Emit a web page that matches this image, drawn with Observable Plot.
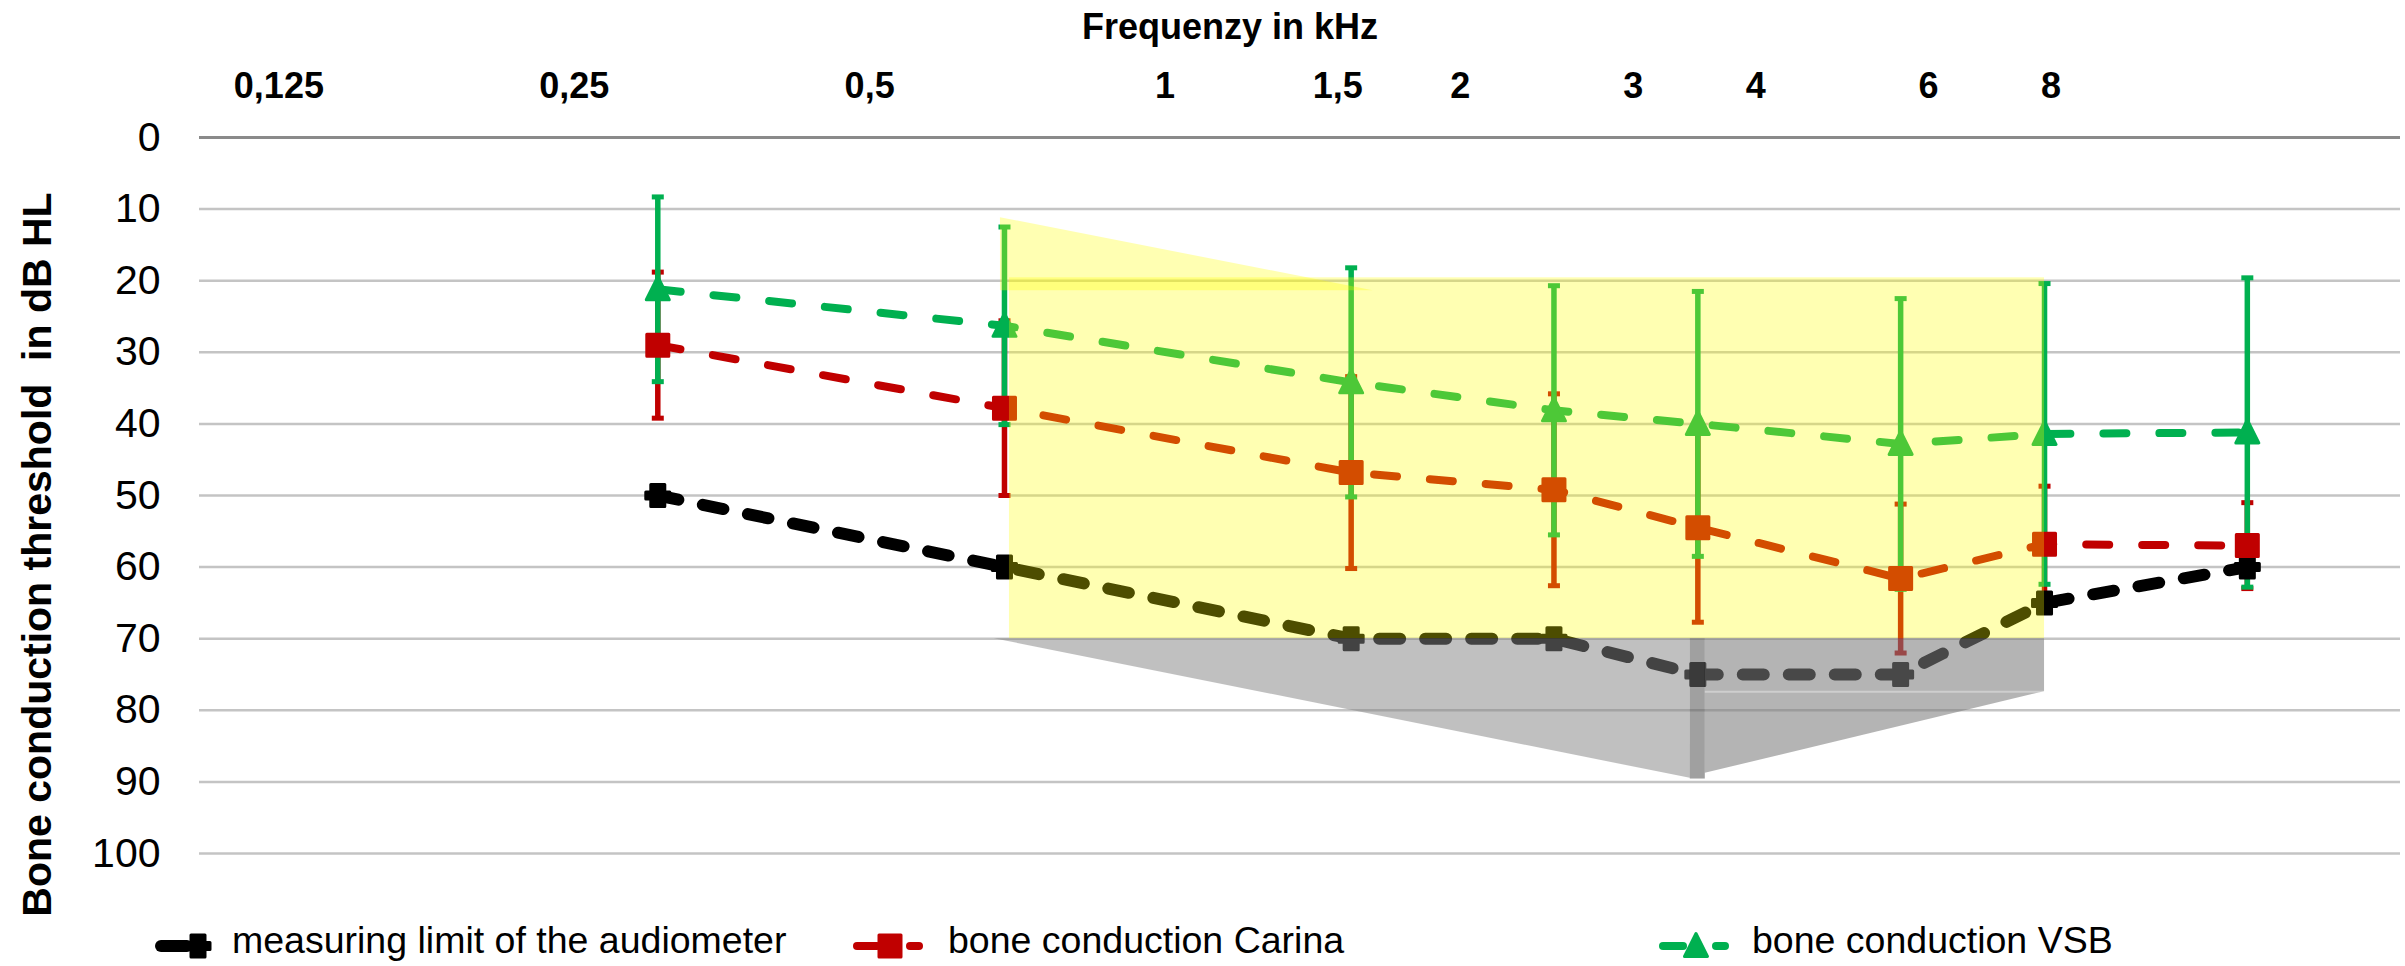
<!DOCTYPE html>
<html>
<head>
<meta charset="utf-8">
<script src="https://cdn.jsdelivr.net/npm/d3@7"></script>
<script src="https://cdn.jsdelivr.net/npm/@observablehq/plot@0.6"></script>
<style>
  html, body { margin: 0; padding: 0; background: #ffffff; overflow: hidden; }
  body { width: 2405px; height: 966px; font-family: "Liberation Sans", Arial, sans-serif; }
  #chart svg { display: block; }
  #legend { position: relative; width: 2405px; height: 52px; font-size: 37.5px; color: #000; }
  #legend .txt { position: absolute; top: 3px; line-height: 46px; white-space: nowrap; }
  #legend svg { position: absolute; top: 3px; }
</style>
</head>
<body>
<div id="chart"></div>
<div id="legend"></div>
<script>
// ---- data ----
const freqs    = [0.25, 0.5, 1, 1.5, 2, 3, 4, 6];               // kHz
const limit    = [50, 60, 70, 70, 75, 75, 65, 60];              // measuring limit of the audiometer
const carina   = [29, 37.8, 46.8, 49.2, 54.5, 61.6, 56.8, 57];  // bone conduction Carina (mean)
const carinaSD = [10.2, 12.2, 13.4, 13.4, 13.2, 10.4, 8.1, 6];
const vsb      = [21.2, 26.3, 34.2, 38.1, 40, 42.8, 41.4, 41.2]; // bone conduction VSB (mean)
const vsbSD    = [12.9, 13.8, 16, 17.4, 18.5, 20.3, 21, 21.6];

const yTicks = [0, 10, 20, 30, 40, 50, 60, 70, 80, 90, 100];
const freqTickValues = [0.125, 0.25, 0.5, 1, 1.5, 2, 3, 4, 6, 8];
const freqTickLabels = ["0,125", "0,25", "0,5", "1", "1,5", "2", "3", "4", "6", "8"];

// highlighted regions (kHz / dB HL) drawn over the series
const yellowWedge = [{f: 0.496, top: 11.2, bottom: 21.4}, {f: 1.045, top: 21.4, bottom: 21.4}];
const yellowBand  = [{f1: 0.505, f2: 4.0, top: 19.6, bottom: 70}];
const grayLeft    = [{f: 0.49, top: 70, bottom: 70}, {f: 1.97, top: 70, bottom: 89.5}];
const grayEdge    = [{f1: 1.97, f2: 2.03, top: 70, bottom: 89.6}];
const grayRight   = [{f: 2.03, top: 70, bottom: 88.8}, {f: 4.0, top: 70, bottom: 77.4}];
const grayRightEdge = [77.4];

const titleX = "Frequenzy in kHz";
const titleY = "Bone conduction threshold  in dB HL";
const seriesNames = ["measuring limit of the audiometer", "bone conduction Carina", "bone conduction VSB"];

// ---- build table ----
const rows = freqs.map((f, i) => ({
  f, limit: limit[i], carina: carina[i], carinaSD: carinaSD[i], vsb: vsb[i], vsbSD: vsbSD[i]
}));
const ticks = freqTickValues.map((v, i) => ({v, label: freqTickLabels[i]}));
// the frequency captions of the original sit on a slightly compressed log layout
const captionPos = v => 0.1172 * Math.pow(v / 0.125, 0.852);

const BLACK = "#000000", RED = "#C00000", GREEN = "#00B050";
const FONT = "'Liberation Sans', Arial, sans-serif";

// ---- marker symbols ----
const plusSym  = {draw(c) { c.rect(-7, -11, 14, 22); c.rect(-12, -3.5, 24, 7); }};
const squareSym = {draw(c) { c.rect(-11, -11, 22, 22); }};
const triSym   = {draw(c) { c.moveTo(0, -12.5); c.lineTo(11.5, 10.5); c.lineTo(-11.5, 10.5); c.closePath(); }};
const capSym   = {draw(c) { c.rect(-6, -2.5, 12, 5); }};

function errorBars(y, sd, color) {
  return [
    Plot.ruleX(rows, {x: "f", y1: d => d[y] - d[sd], y2: d => d[y] + d[sd], stroke: color, strokeWidth: 5.5}),
    Plot.dot(rows, {x: "f", y: d => d[y] - d[sd], symbol: capSym, fill: color, stroke: "none"}),
    Plot.dot(rows, {x: "f", y: d => d[y] + d[sd], symbol: capSym, fill: color, stroke: "none"})
  ];
}
function series(y, color, width, dash, sym) {
  return [
    Plot.line(rows, {x: "f", y, stroke: color, strokeWidth: width, strokeDasharray: dash,
      strokeLinecap: "round", strokeLinejoin: "round"}),
    Plot.dot(rows, {x: "f", y, symbol: sym, fill: color, stroke: color, strokeWidth: 3, strokeLinejoin: "round"})
  ];
}

const chart = Plot.plot({
  width: 2405,
  height: 914,
  marginLeft: 199,
  marginRight: 5,
  marginTop: 137,
  marginBottom: 61,
  style: {fontFamily: FONT, background: "#ffffff", color: "#000", overflow: "visible"},
  x: {type: "log", domain: [0.1, 8.15], axis: null},
  y: {domain: [0, 100], reverse: true, axis: null},
  marks: [
    Plot.gridY(yTicks, {stroke: "#c4c4c4", strokeWidth: 2.5, strokeOpacity: 1}),
    Plot.ruleY([0], {stroke: "#8a8a8a", strokeWidth: 3}),
    Plot.axisY(yTicks, {tickSize: 0, tickPadding: 39, fontSize: 41, tickFormat: d => String(d), label: null}),

    ...errorBars("carina", "carinaSD", RED),
    ...errorBars("vsb", "vsbSD", GREEN),

    ...series("limit", BLACK, 12, "21,25", plusSym),
    ...series("carina", RED, 8, "23,33", squareSym),
    ...series("vsb", GREEN, 8, "23,33", triSym),

    // translucent highlight overlays
    Plot.areaY(yellowWedge, {x: "f", y1: "top", y2: "bottom", fill: "#FFFF00", fillOpacity: 0.3}),
    Plot.rect(yellowBand, {x1: "f1", x2: "f2", y1: "top", y2: "bottom", fill: "#FFFF00", fillOpacity: 0.3}),
    Plot.areaY(grayLeft, {x: "f", y1: "top", y2: "bottom", fill: "#848484", fillOpacity: 0.51}),
    Plot.areaY(grayRight, {x: "f", y1: "top", y2: "bottom", fill: "#7D7D7D", fillOpacity: 0.576}),
    Plot.rect(grayEdge, {x1: "f1", x2: "f2", y1: "top", y2: "bottom", fill: "#606060", fillOpacity: 0.6}),
    Plot.ruleY(grayRightEdge, {x1: 2.03, x2: 4.0, stroke: "#ffffff", strokeOpacity: 0.35, strokeWidth: 2}),

    // frequency captions and titles
    Plot.text(ticks, {x: d => captionPos(d.v), text: "label", frameAnchor: "top", lineAnchor: "middle", dy: -51,
      fontSize: 36, fontWeight: "bold", fill: "#000"}),
    Plot.text([titleX], {frameAnchor: "top", lineAnchor: "middle", dx: -70, dy: -110, fontSize: 36,
      fontWeight: "bold", fill: "#000"}),
    Plot.text([titleY], {frameAnchor: "left", rotate: -90, dx: -162, dy: 59, fontSize: 41, fontWeight: "bold",
      fill: "#000", textAnchor: "middle", lineAnchor: "middle"})
  ]
});
document.getElementById("chart").appendChild(chart);

// ---- legend ----
const legend = d3.select("#legend");
const items = [
  {name: seriesNames[0], color: BLACK, swatchX: 155, textX: 232, kind: "plus"},
  {name: seriesNames[1], color: RED, swatchX: 853, textX: 948, kind: "square"},
  {name: seriesNames[2], color: GREEN, swatchX: 1659, textX: 1752, kind: "tri"}
];
const cy = 29;
for (const it of items) {
  const svg = legend.append("svg").attr("width", 80).attr("height", 49)
    .style("left", it.swatchX + "px");
  if (it.kind === "plus") {
    svg.append("line").attr("x1", 6).attr("x2", 32).attr("y1", cy).attr("y2", cy)
      .attr("stroke", it.color).attr("stroke-width", 12).attr("stroke-linecap", "round");
    const g = svg.append("g").attr("transform", `translate(43,${cy})`)
      .attr("fill", it.color).attr("stroke", it.color).attr("stroke-width", 3).attr("stroke-linejoin", "round");
    g.append("rect").attr("x", -7).attr("y", -11).attr("width", 14).attr("height", 22);
    g.append("rect").attr("x", -12).attr("y", -3.5).attr("width", 24).attr("height", 7);
  } else {
    svg.append("line").attr("x1", 4).attr("x2", 24).attr("y1", cy).attr("y2", cy)
      .attr("stroke", it.color).attr("stroke-width", 8).attr("stroke-linecap", "round");
    svg.append("line").attr("x1", 57).attr("x2", 66).attr("y1", cy).attr("y2", cy)
      .attr("stroke", it.color).attr("stroke-width", 8).attr("stroke-linecap", "round");
    const g = svg.append("g").attr("transform", `translate(37,${cy})`)
      .attr("fill", it.color).attr("stroke", it.color).attr("stroke-width", 3).attr("stroke-linejoin", "round");
    if (it.kind === "square") g.append("rect").attr("x", -11).attr("y", -11).attr("width", 22).attr("height", 22);
    else g.append("path").attr("d", "M0,-12.5L11.5,10.5L-11.5,10.5Z");
  }
  legend.append("div").attr("class", "txt").style("left", it.textX + "px").text(it.name);
}
</script>
</body>
</html>
